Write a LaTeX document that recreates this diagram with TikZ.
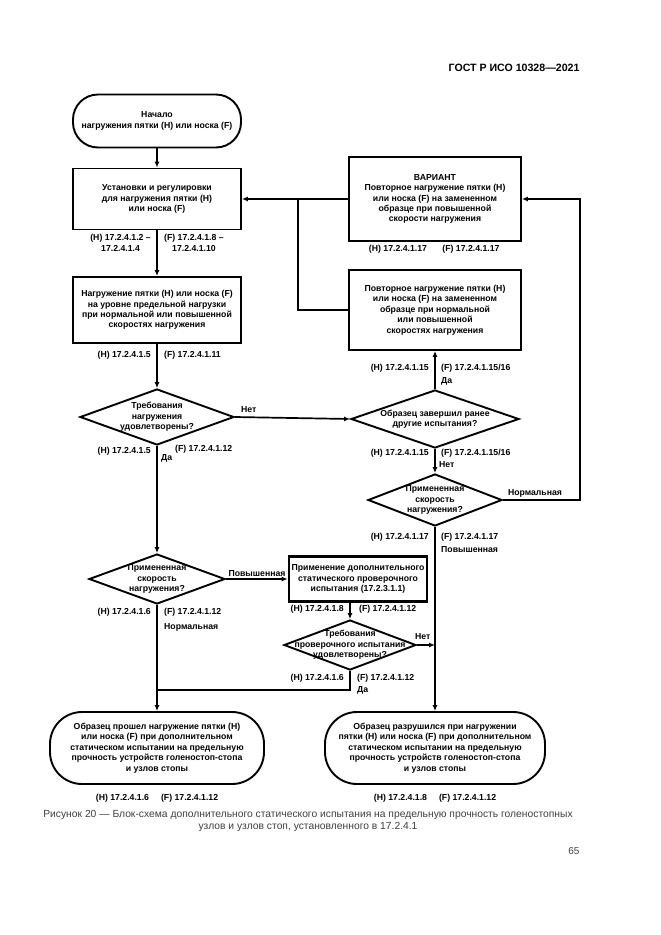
\documentclass[tikz,border=0pt]{standalone}
\usepackage{fontspec}
\setmainfont{Liberation Sans}
\usetikzlibrary{shapes.geometric,arrows.meta,calc}
\begin{document}
\begin{tikzpicture}[x=1pt,y=-1pt,
  every node/.style={font=\fontsize{8.7}{10.4}\selectfont\bfseries},
  box/.style={draw,line width=1.9pt,align=center,inner sep=1pt},
  term/.style={draw,line width=1.9pt,align=center},
  dia/.style={draw,diamond,line width=1.9pt,inner sep=0pt},
  dtext/.style={align=center,inner sep=0pt},
  lbl/.style={inner sep=0pt,align=center},
  conn/.style={line width=1.7pt},
  arr/.style={conn,-{Latex[length=6pt,width=5pt]}},
]
\useasboundingbox[fill=white] (0,0) rectangle (661,935);

% header
\node[anchor=east,font=\fontsize{10.6}{12}\selectfont\bfseries] (hdr) at (583,68) {ГОСТ Р ИСО 10328—2021};

% left column
\node[term,rounded corners=25pt,minimum width=168pt,minimum height=53pt] (start) at (157,121) {Начало\\нагружения пятки (H) или носка (F)};
\node[box,minimum width=168pt,minimum height=61pt] (box1) at (157,199) {Установки и регулировки\\для нагружения пятки (H)\\или носка (F)};
\node[box,minimum width=168pt,minimum height=66pt] (box2) at (157,310) {Нагружение пятки (H) или носка (F)\\на уровне предельной нагрузки\\при нормальной или повышенной\\скоростях нагружения};
\node[dia,minimum width=154pt,minimum height=56pt] (d1) at (157,417) {};
\node[dtext] (d1t) at (d1) {Требования\\нагружения\\удовлетворены?};
\node[dia,minimum width=136pt,minimum height=50pt] (d2) at (157,579) {};
\node[dtext] (d2t) at (d2) {Примененная\\скорость\\нагружения?};
\node[term,rounded corners=32pt,minimum width=214pt,minimum height=72pt] (tL) at (157,748) {Образец прошел нагружение пятки (H)\\или носка (F) при дополнительном\\статическом испытании на предельную\\прочность устройств голеностоп-стопа\\и узлов стопы};

% middle
\node[box,line width=2.6pt,minimum width=138pt,minimum height=45pt] (mbox) at (358,579) {Применение дополнительного\\статического проверочного\\испытания (17.2.3.1.1)};
\node[dia,minimum width=132pt,minimum height=50pt] (d3) at (350,645) {};
\node[dtext] (d3t) at (d3) {Требования\\проверочного испытания\\удовлетворены?};

% right column
\node[box,minimum width=172pt,minimum height=84pt] (rtop) at (435,199) {ВАРИАНТ\\Повторное нагружение пятки (H)\\или носка (F) на замененном\\образце при повышенной\\скорости нагружения};
\node[box,minimum width=172pt,minimum height=80pt] (rmid) at (435,310) {Повторное нагружение пятки (H)\\или носка (F) на замененном\\образце при нормальной\\или повышенной\\скоростях нагружения};
\node[dia,minimum width=168pt,minimum height=58pt] (dR1) at (435,419) {};
\node[dtext] (dR1t) at (dR1) {Образец завершил ранее\\другие испытания?};
\node[dia,minimum width=134pt,minimum height=52pt] (dR2) at (435,500) {};
\node[dtext] (dR2t) at (dR2) {Примененная\\скорость\\нагружения?};
\node[term,rounded corners=32pt,minimum width=220pt,minimum height=72pt] (tR) at (435,748) {Образец разрушился при нагружении\\пятки (H) или носка (F) при дополнительном\\статическом испытании на предельную\\прочность устройств голеностоп-стопа\\и узлов стопы};

% connectors
\coordinate (j1) at (298,199);
\coordinate (fr) at (580,500);
\coordinate (j2) at (350,690);
\draw[arr] (start.south) -- (box1.north);
\draw[arr] (box1.south) -- (box2.north);
\draw[arr] (box2.south) -- (d1.north);
\draw[arr] (d1.east) -- (dR1.west);
\draw[arr] (d1.south) -- (d2.north);
\draw[arr] (d2.east) -- (mbox.west);
\draw[arr] (d2.south) -- (tL.north);
\draw[arr] (mbox.south -| d3.north) -- (d3.north);
\draw[arr] (d3.east) -- (d3.east -| tR.north);
\draw[conn] (d3.south) -- (j2) -- (j2 -| d2.south);
\draw[arr] (dR1.north) -- (rmid.south);
\draw[arr] (dR1.south) -- (dR2.north);
\draw[arr] (dR2.south) -- (tR.north);
\draw[arr] (dR2.east) -- (dR2.east -| fr) |- (rtop.east);
\draw[arr] (rtop.west) -- (rtop.west -| box1.east);
\draw[conn] (rmid.west) -| (j1);

% labels
\node[lbl,anchor=east] (l1) at (151,243) {(H) 17.2.4.1.2 –\\17.2.4.1.4};
\node[lbl,anchor=west] (l2) at (164,243) {(F) 17.2.4.1.8 –\\17.2.4.1.10};
\node[lbl,anchor=east] (l3) at (151,355) {(H) 17.2.4.1.5};
\node[lbl,anchor=west] (l4) at (164,355) {(F) 17.2.4.1.11};
\node[lbl,anchor=east] (l5) at (151,451) {(H) 17.2.4.1.5};
\node[lbl,anchor=west] (l6) at (175,449) {(F) 17.2.4.1.12};
\node[lbl,anchor=west] (l7) at (161,458) {Да};
\node[lbl,anchor=west] (l8) at (241,410) {Нет};
\node[lbl] (l9) at (398,249) {(H) 17.2.4.1.17};
\node[lbl] (l10) at (471,249) {(F) 17.2.4.1.17};
\node[lbl,anchor=east] (l11) at (429,368) {(H) 17.2.4.1.15};
\node[lbl,anchor=west] (l12) at (441,368) {(F) 17.2.4.1.15/16};
\node[lbl,anchor=west] (l13) at (441,381) {Да};
\node[lbl,anchor=east] (l14) at (429,453) {(H) 17.2.4.1.15};
\node[lbl,anchor=west] (l15) at (441,453) {(F) 17.2.4.1.15/16};
\node[lbl,anchor=west] (l16) at (439,465) {Нет};
\node[lbl] (l17) at (535,493) {Нормальная};
\node[lbl,anchor=east] (l18) at (429,537) {(H) 17.2.4.1.17};
\node[lbl,anchor=west] (l19) at (441,537) {(F) 17.2.4.1.17};
\node[lbl,anchor=west] (l20) at (441,550) {Повышенная};
\node[lbl] (l21) at (257,574) {Повышенная};
\node[lbl,anchor=east] (l22) at (151,612) {(H) 17.2.4.1.6};
\node[lbl,anchor=west] (l23) at (164,612) {(F) 17.2.4.1.12};
\node[lbl,anchor=west] (l24) at (164,627) {Нормальная};
\node[lbl,anchor=east] (l25) at (344,609) {(H) 17.2.4.1.8};
\node[lbl,anchor=west] (l26) at (359,609) {(F) 17.2.4.1.12};
\node[lbl,anchor=west] (l27) at (415,637) {Нет};
\node[lbl,anchor=east] (l28) at (344,678) {(H) 17.2.4.1.6};
\node[lbl,anchor=west] (l29) at (357,678) {(F) 17.2.4.1.12};
\node[lbl,anchor=west] (l30) at (357,690) {Да};
\node[lbl] (l31) at (157,798) {(H) 17.2.4.1.6\hspace{12pt}(F) 17.2.4.1.12};
\node[lbl] (l32) at (435,798) {(H) 17.2.4.1.8\hspace{12pt}(F) 17.2.4.1.12};

% caption
\node[align=center,font=\fontsize{10.3}{12}\selectfont,text=black!75] (cap) at (308,821) {Рисунок 20 — Блок-схема дополнительного статического испытания на предельную прочность голеностопных\\узлов и узлов стоп, установленного в 17.2.4.1};
\node[anchor=east,font=\fontsize{10}{12}\selectfont,text=black!75] (pg) at (583,851) {65};
\end{tikzpicture}
\end{document}
